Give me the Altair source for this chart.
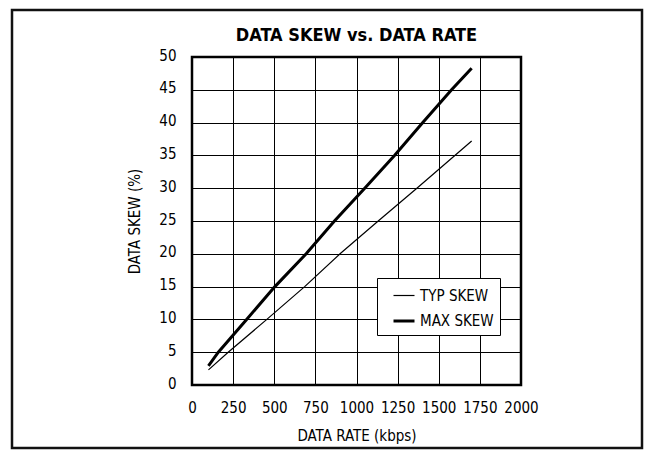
import altair as alt
import pandas as pd

# ---- data ----
typ_rate = [100, 220, 455, 685, 900, 1132, 1367, 1700]
typ_skew = [2.3, 5.0, 10.0, 15.0, 20.0, 25.0, 30.0, 37.2]
max_rate = [100, 160, 332, 504, 694, 866, 1050, 1231, 1403, 1578, 1700]
max_skew = [2.9, 5.0, 10.0, 15.0, 20.0, 25.0, 30.0, 35.0, 40.0, 45.0, 48.3]
series_names = ["TYP SKEW", "MAX SKEW"]
x_ticks = [0, 250, 500, 750, 1000, 1250, 1500, 1750, 2000]
y_ticks = [0, 5, 10, 15, 20, 25, 30, 35, 40, 45, 50]

rows = []
for r, s in zip(typ_rate, typ_skew):
    rows.append({"rate": r, "skew": s, "series": series_names[0]})
for r, s in zip(max_rate, max_skew):
    rows.append({"rate": r, "skew": s, "series": series_names[1]})
df = pd.DataFrame(rows)

FONT = "'DejaVu Sans Condensed', 'Liberation Sans Narrow', sans-serif"

PLOT_L, PLOT_T, PLOT_W, PLOT_H = 192, 57, 329, 328

lines = alt.Chart(df).mark_line(color="black", clip=True).encode(
    x=alt.X("rate:Q", scale=alt.Scale(domain=[0, 2000], nice=False),
            axis=alt.Axis(values=x_ticks, title="DATA RATE (kbps)", format="d")),
    y=alt.Y("skew:Q", scale=alt.Scale(domain=[0, 50], nice=False),
            axis=alt.Axis(values=y_ticks, title="DATA SKEW (%)", format="d")),
    strokeWidth=alt.StrokeWidth(
        "series:N",
        scale=alt.Scale(domain=series_names, range=[1.2, 3]),
        legend=alt.Legend(
            title=None, orient="none", legendX=185, legendY=221,
            symbolType="stroke", symbolSize=441, symbolStrokeColor="black",
            labelFont=FONT, labelFontSize=15, labelColor="black",
            labelExpr="datum.label + '\u00a0\u00a0\u00a0\u00a0\u00a0'",
            padding=6, symbolOffset=9, rowPadding=5,
            strokeColor="black", fillColor="white",
        ),
    ),
    detail="series:N",
)

frame = alt.Chart(pd.DataFrame({"a": [0]})).mark_rect(
    fill=None, stroke="#111", strokeWidth=2.5, clip=False
).encode(
    x=alt.value(12 - PLOT_L), x2=alt.value(642 - PLOT_L),
    y=alt.value(10 - PLOT_T), y2=alt.value(448 - PLOT_T),
)

chart = alt.layer(frame, lines).properties(
    width=PLOT_W, height=PLOT_H,
    title=alt.Title("DATA SKEW vs. DATA RATE", font=FONT, fontSize=18,
                    fontWeight="bold", color="black", offset=0, dy=54,
                    anchor="middle", baseline="bottom"),
    autosize=alt.AutoSizeParams(type="none"),
    padding={"left": PLOT_L - 8, "top": PLOT_T - 8, "right": 123, "bottom": 65},
).configure_view(
    stroke="black", strokeWidth=2.5
).configure_axis(
    grid=True, gridColor="black", gridWidth=1, gridOpacity=1,
    domain=False, ticks=False, labelOverlap=False, labelFlush=False,
    labelFont=FONT, labelFontSize=15, labelColor="black",
    titleFont=FONT, titleFontSize=15, titleColor="black", titleFontWeight="normal",
).configure_axisX(
    labelPadding=15, titlePadding=13,
).configure_axisY(
    labelPadding=16, titlePadding=16, labelOffset=-2,
)

chart.save("out.html", embed_options={"renderer": "svg", "actions": False})
